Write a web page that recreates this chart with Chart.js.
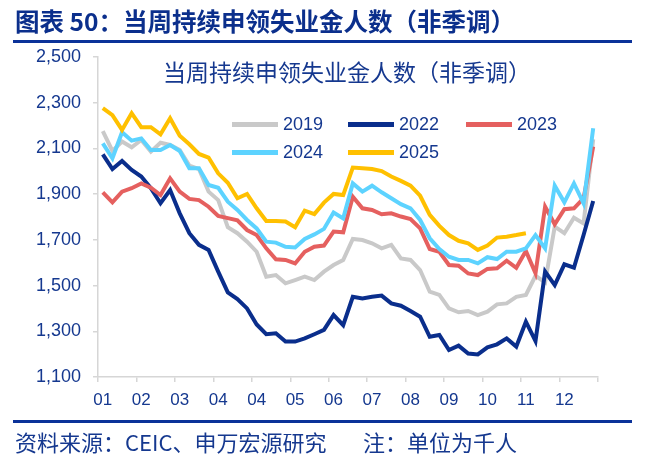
<!DOCTYPE html>
<html>
<head>
<meta charset="utf-8">
<script src="https://cdn.jsdelivr.net/npm/chart.js@4.4.1/dist/chart.umd.min.js"></script>
<style>
  html, body { margin: 0; padding: 0; background: #fff; }
  #wrap { position: relative; width: 648px; height: 476px; overflow: hidden; font-family: "Noto Sans CJK SC", "Liberation Sans", sans-serif; color: #15388f; }
  canvas { position: absolute; left: 0; top: 0; }
  #head { position: absolute; left: 15px; top: 5px; font-size: 24.5px; font-weight: bold; color: #0b2f8c; white-space: nowrap; line-height: 32px; }
  .rule { position: absolute; left: 13px; width: 619px; height: 3px; background: #0b3299; }
  .foot { position: absolute; top: 427px; font-size: 22px; line-height: 28px; white-space: nowrap; }
  #sub { position: absolute; left: 0; width: 694px; top: 56px; text-align: center; font-size: 23px; line-height: 30px; }
  .lg { position: absolute; height: 26px; display: flex; align-items: center; font-family: "Liberation Sans", sans-serif; font-size: 18px; white-space: nowrap; }
  .lg i { display: inline-block; width: 46px; height: 5px; margin-right: 5px; }
</style>
</head>
<body>
<div id="wrap">
  <canvas id="myChart" width="648" height="476"></canvas>
  <div id="head">图表 50：当周持续申领失业金人数（非季调）</div>
  <div class="rule" style="top:40px"></div>
  <div class="rule" style="top:420px"></div>
  <div class="foot" style="left:15px">资料来源：CEIC、申万宏源研究</div>
  <div class="foot" style="left:363px">注：单位为千人</div>
  <div id="sub">当周持续申领失业金人数（非季调）</div>
  <div id="legend"></div>
</div>
<script>
// Month labels shown every 4 weeks on the x axis
const monthTicks = ['01', '02', '03', '04', '04', '05', '06', '07', '08', '09', '10', '11', '12'];
const yTicks = [1100, 1300, 1500, 1700, 1900, 2100, 2300, 2500];

// Weekly continuing claims, thousands (52 weeks)
const claims2019 = [2176, 2089, 2130, 2105, 2137, 2086, 2125, 2115, 2093, 2025,
    2010, 1911, 1874, 1755, 1729, 1692, 1648, 1539, 1546, 1510,
    1524, 1539, 1524, 1561, 1590, 1612, 1704, 1699, 1685, 1663,
    1678, 1619, 1612, 1568, 1473, 1459, 1400, 1383, 1389, 1371,
    1386, 1418, 1422, 1451, 1459, 1543, 1514, 1758, 1729, 1797,
    1772, 2140];
const claims2022 = [2074, 2010, 2045, 2006, 1977, 1926, 1860, 1918, 1816, 1729,
    1678, 1656, 1561, 1470, 1441, 1400, 1330, 1287, 1291, 1255,
    1255, 1269, 1287, 1306, 1371, 1327, 1451, 1444, 1451, 1456,
    1422, 1412, 1389, 1364, 1276, 1284, 1218, 1237, 1203, 1199,
    1230, 1243, 1269, 1233, 1342, 1257, 1561, 1502, 1593, 1578,
    1721, 1870];
const claims2023 = [1908, 1864, 1911, 1926, 1947, 1928, 1896, 1969, 1911, 1879,
    1874, 1845, 1805, 1795, 1785, 1743, 1721, 1663, 1615, 1612,
    1597, 1648, 1670, 1675, 1736, 1733, 1889, 1838, 1831, 1812,
    1816, 1802, 1791, 1750, 1660, 1648, 1590, 1587, 1553, 1546,
    1573, 1576, 1609, 1578, 1651, 1554, 1845, 1768, 1834, 1838,
    1882, 2108];
const claims2024 = [2122, 2057, 2171, 2134, 2144, 2093, 2093, 2115, 2089, 2013,
    2013, 1940, 1928, 1867, 1831, 1787, 1750, 1692, 1688, 1670,
    1667, 1704, 1724, 1748, 1820, 1794, 1947, 1911, 1937, 1908,
    1882, 1856, 1838, 1787, 1707, 1660, 1626, 1612, 1612, 1597,
    1624, 1616, 1648, 1648, 1663, 1721, 1663, 1937, 1864, 1947,
    1860, 2188];
const claims2025 = [2276, 2246, 2181, 2254, 2193, 2193, 2162, 2232, 2156, 2118,
    2076, 2060, 1991, 1950, 1882, 1901, 1838, 1783, 1783, 1780,
    1755, 1828, 1813, 1863, 1901, 1896, 2016, 2013, 2010, 2001,
    1977, 1958, 1937, 1893, 1809, 1761, 1721, 1696, 1685, 1656,
    1675, 1710, 1714, 1721, 1729];

const textColor = '#15388f';
const axisColor = '#d6d6d6';

// one label per week, month name on every 4th week
const weekLabels = claims2019.map((v, i) => i % 4 === 0 ? monthTicks[i / 4] : '');

const series = [
    { label: '2019', data: claims2019, color: '#c9c9c9', order: 5 },
    { label: '2022', data: claims2022, color: '#0a2e8c', order: 4 },
    { label: '2023', data: claims2023, color: '#e5605f', order: 3 },
    { label: '2024', data: claims2024, color: '#5dd3ff', order: 2 },
    { label: '2025', data: claims2025, color: '#ffc000', order: 1 }
];

const config = {
    type: 'line',
    data: {
        labels: weekLabels,
        datasets: series.map(s => ({
            label: s.label,
            data: s.data,
            borderColor: s.color,
            backgroundColor: s.color,
            borderWidth: 4,
            pointRadius: 0,
            tension: 0,
            fill: false,
            order: s.order
        }))
    },
    options: {
        responsive: false,
        animation: false,
        layout: { padding: { left: 0, right: 50, top: 57, bottom: 69 } },
        plugins: {
            legend: { display: false },
            tooltip: { enabled: false }
        },
        scales: {
            x: {
                type: 'category',
                offset: true,
                afterFit: scale => { scale.height = 30; },
                grid: {
                    display: true,
                    offset: true,
                    drawOnChartArea: false,
                    drawTicks: true,
                    tickLength: 5,
                    lineWidth: 1.5,
                    // tick marks only every 4 weeks (and at the far end)
                    color: ctx => (ctx.type !== 'tick' || ctx.index % 4 === 0) ? axisColor : 'rgba(0,0,0,0)'
                },
                border: { display: true, color: axisColor, width: 1.5 },
                ticks: {
                    autoSkip: false,
                    maxRotation: 0,
                    padding: 8,
                    color: textColor,
                    font: { family: 'Liberation Sans', size: 17 }
                }
            },
            y: {
                min: yTicks[0],
                max: yTicks[yTicks.length - 1],
                afterFit: scale => { scale.width = 98; },
                afterBuildTicks: scale => { scale.ticks = yTicks.map(v => ({ value: v })); },
                grid: {
                    display: true,
                    drawOnChartArea: false,
                    drawTicks: true,
                    tickLength: 5,
                    lineWidth: 1.5,
                    color: axisColor
                },
                border: { display: true, color: axisColor, width: 1.5 },
                ticks: {
                    padding: 12,
                    color: textColor,
                    font: { family: 'Liberation Sans', size: 18 },
                    callback: v => v.toLocaleString('en-US')
                }
            }
        }
    }
};

const myChart = new Chart(document.getElementById('myChart'), config);

// legend laid out in two rows of three, inside the plot
const legendPos = [[232, 111], [348, 111], [466, 111], [232, 139], [348, 139]];
const legendBox = document.getElementById('legend');
myChart.data.datasets.forEach((ds, i) => {
    const item = document.createElement('div');
    item.className = 'lg';
    item.style.left = legendPos[i][0] + 'px';
    item.style.top = legendPos[i][1] + 'px';
    item.innerHTML = '<i style="background:' + ds.borderColor + '"></i>' + ds.label;
    legendBox.appendChild(item);
});
</script>
</body>
</html>
